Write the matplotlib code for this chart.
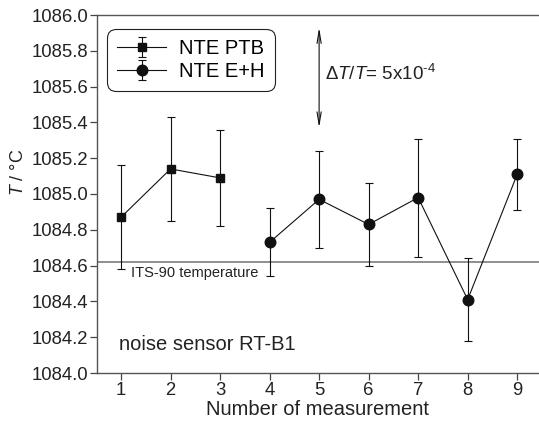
import matplotlib
matplotlib.use('Agg')
import matplotlib.pyplot as plt

plt.rcParams['font.family'] = ['Liberation Sans', 'DejaVu Sans']
plt.rcParams['mathtext.fontset'] = 'custom'
plt.rcParams['mathtext.rm'] = 'Liberation Sans'
plt.rcParams['mathtext.it'] = 'Liberation Sans:italic'

# NTE PTB
ptb_x = [1, 2, 3]
ptb_y = [1084.87, 1085.14, 1085.09]
ptb_err = [0.29, 0.29, 0.27]

# NTE E+H
eh_x = [4, 5, 6, 7, 8, 9]
eh_y = [1084.73, 1084.97, 1084.83, 1084.98, 1084.41, 1085.11]
eh_err = [0.19, 0.27, 0.23, 0.33, 0.23, 0.20]

its90 = 1084.62
xticks = [1, 2, 3, 4, 5, 6, 7, 8, 9]
yticks = [1084.0, 1084.2, 1084.4, 1084.6, 1084.8, 1085.0, 1085.2, 1085.4, 1085.6, 1085.8, 1086.0]

fig = plt.figure(figsize=(5.39, 4.26), dpi=100)
ax = fig.add_axes([97 / 539, 53 / 426, 442 / 539, 358 / 426])

ax.axhline(its90, color='#707070', lw=1.1, zorder=1)

ax.errorbar(ptb_x, ptb_y, yerr=ptb_err, fmt='-s', color='#111111', lw=0.8,
            ms=6.3, elinewidth=0.8, capsize=2.8, capthick=0.8, label='NTE PTB', zorder=3)
ax.errorbar(eh_x, eh_y, yerr=eh_err, fmt='-o', color='#111111', lw=0.8,
            ms=7.6, elinewidth=0.8, capsize=2.8, capthick=0.8, label='NTE E+H', zorder=3)

# arrow showing the relative uncertainty span
ax.annotate('', xy=(5, 1085.37), xytext=(5, 1085.93),
            arrowprops=dict(arrowstyle='<->,head_length=0.9,head_width=0.15',
                            color='#111111', lw=0.8, shrinkA=0, shrinkB=0))
ax.text(5.12, 1085.67, r'$\Delta T/T$= 5x10$^{\text{-4}}$', fontsize=13.5, va='center', color='#222222')

ax.text(1.2, 1084.56, 'ITS-90 temperature', fontsize=10.5, va='center', color='#222222')
ax.text(0.96, 1084.16, 'noise sensor RT-B1', fontsize=14.5, va='center', color='#222222')

ax.set_xlim(0.515, 9.44)
ax.set_ylim(1084.0, 1086.0)
ax.set_xticks(xticks)
ax.set_yticks(yticks)
ax.set_yticklabels([f'{v:.1f}' for v in yticks])
ax.tick_params(direction='out', length=5, width=0.9, pad=1.5, labelsize=13.3,
               color='#444444', labelcolor='#222222')
ax.spines['right'].set_visible(False)
for s in ['left', 'bottom', 'top']:
    ax.spines[s].set_linewidth(1.0)
    ax.spines[s].set_color('#555555')

ax.set_xlabel('Number of measurement', fontsize=14.5, color='#222222', labelpad=1)
ax.set_ylabel(r'$T$ / °C', fontsize=13, color='#222222')
ax.yaxis.set_label_coords(-0.158, 0.56)

leg = ax.legend(loc='upper left', bbox_to_anchor=(0.0226, 0.961), borderaxespad=0,
                fontsize=14.5, frameon=True, fancybox=True, edgecolor='#222222',
                handlelength=2.45, borderpad=0.5, labelspacing=0.2, handletextpad=0.65,
                framealpha=1)
leg.get_frame().set_linewidth(0.8)
leg.get_frame().set_boxstyle('round', pad=0, rounding_size=0.45)

fig.savefig('out.png', dpi=100)
